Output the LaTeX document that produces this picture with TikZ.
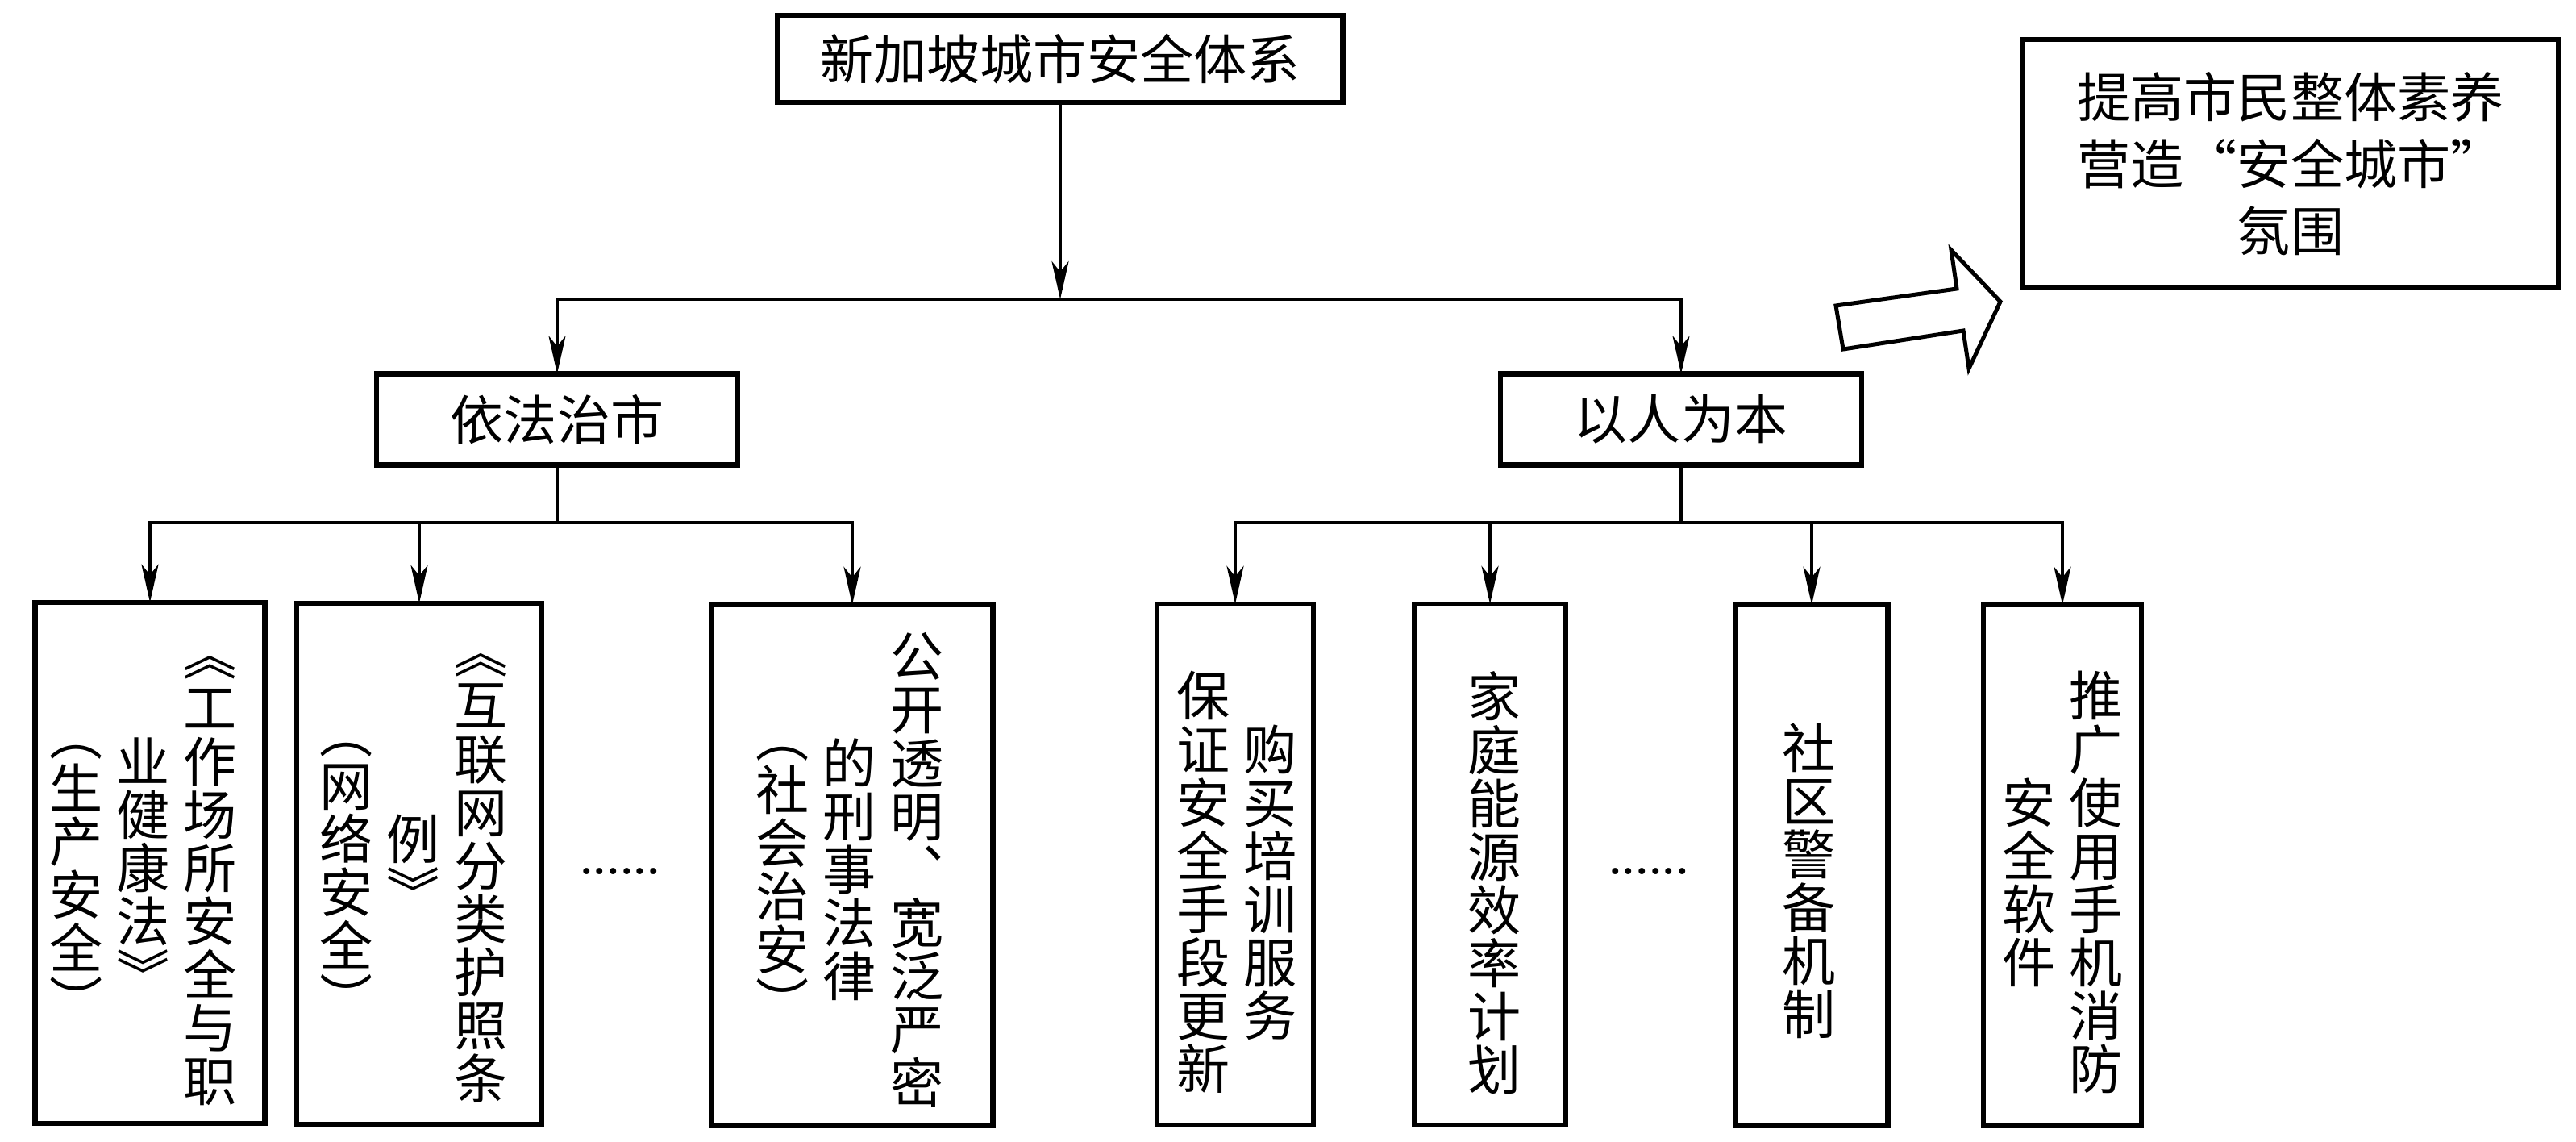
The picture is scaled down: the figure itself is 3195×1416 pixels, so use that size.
\documentclass[tikz,border=0pt]{standalone}
\usepackage{fontspec}
\setmainfont{Liberation Serif}
\newfontfamily\cjk{Noto Sans CJK SC}
\usetikzlibrary{arrows.meta}
\newlength\cw
\setlength\cw{0.66cm}
\makeatletter
\def\vc@aux#1{\ifx#1\relax\else\hbox to\cw{\hss\vrule height .88\cw depth .12\cw width 0pt\relax#1\hss}\expandafter\vc@aux\fi}
\newcommand\vcol[1]{$\vcenter{\baselineskip=\cw\lineskip=0pt\lineskiplimit=-\maxdimen\vc@aux#1\relax}$}
\makeatother
\newcommand\cg{\hskip0.17cm}
\begin{document}
\begin{tikzpicture}[x=0.01cm,y=-0.01cm,
  box/.style={draw,line width=0.065cm,inner sep=0pt,outer sep=0pt,font=\cjk\fontsize{18.8}{22}\selectfont},
  vtxt/.style={inner sep=0pt,font=\cjk\fontsize{18.8}{22}\selectfont},
  dots/.style={inner sep=0pt,anchor=base,font=\fontsize{18.8}{22}\selectfont},
  link/.style={line width=0.045cm},
  arr/.style={link,-{Stealth[length=0.47cm,width=0.21cm,inset=0.13cm]}}]
\useasboundingbox (0,0) rectangle (3195,1416);
% top level
\node[box,minimum width=7.01cm,minimum height=1.08cm] (top) at (1315,73) {新加坡城市安全体系};
\node[box,minimum width=4.48cm,minimum height=1.13cm] (law) at (691,520) {依法治市};
\node[box,minimum width=4.48cm,minimum height=1.13cm] (people) at (2085,520) {以人为本};
\node[box,minimum width=6.64cm,minimum height=3.08cm,align=center,font=\cjk\fontsize{18.8}{23.6}\selectfont] (goal) at (2841,203) {提高市民整体素养\\营造“安全城市”\\氛围};
% bottom boxes
\node[box,minimum width=2.85cm,minimum height=6.46cm] (b1) at (186,1070) {};
\node[box,minimum width=3.04cm,minimum height=6.46cm] (b2) at (520,1071) {};
\node[box,minimum width=3.49cm,minimum height=6.46cm] (b3) at (1057,1073) {};
\node[box,minimum width=1.94cm,minimum height=6.46cm] (b4) at (1532,1072) {};
\node[box,minimum width=1.88cm,minimum height=6.46cm] (b5) at (1848,1072) {};
\node[box,minimum width=1.89cm,minimum height=6.46cm] (b6) at (2247,1073) {};
\node[box,minimum width=1.96cm,minimum height=6.46cm] (b7) at (2558,1073) {};
% vertical texts
\node[vtxt] (t1) at (178,1076) {\vcol{︵生产安全︶}\cg\vcol{业健康法︾}\cg\vcol{︽工作场所安全与职}};
\node[vtxt] (t2) at (513,1073) {\vcol{︵网络安全︶}\cg\vcol{例︾}\cg\vcol{︽互联网分类护照条}};
\node[vtxt] (t3) at (1054,1078) {\vcol{︵社会治安︶}\cg\vcol{的刑事法律}\cg\vcol{公开透明︑宽泛严密}};
\node[vtxt] (t4) at (1534,1094) {\vcol{保证安全手段更新}\cg\vcol{购买培训服务}};
\node[vtxt] (t5) at (1854,1095) {\vcol{家庭能源效率计划}};
\node[vtxt] (t6) at (2244,1092) {\vcol{社区警备机制}};
\node[vtxt] (t7) at (2558,1094) {\vcol{安全软件}\cg\vcol{推广使用手机消防}};
% dots
\node[dots] (d1) at (769,1083) {......};
\node[dots] (d2) at (2045,1083) {......};
% connectors
\coordinate (j0) at (1315,371);
\coordinate (kl) at (691,648);
\coordinate (kr) at (2085,648);
\draw[arr] (top) -- (j0);
\draw[arr] (j0) -| (law);
\draw[arr] (j0) -| (people);
\draw[link] (law) -- (kl);
\draw[arr] (kl) -| (b1);
\draw[arr] (kl) -| (b2);
\draw[arr] (kl) -| (b3);
\draw[link] (people) -- (kr);
\draw[arr] (kr) -| (b4);
\draw[arr] (kr) -| (b5);
\draw[arr] (kr) -| (b6);
\draw[arr] (kr) -| (b7);
% block arrow
\draw[line width=0.05cm,line join=miter,fill=white] (2277,379) -- (2427,358) -- (2420,310) -- (2481,374) -- (2442,457) -- (2435,410) -- (2286,433) -- cycle;
\end{tikzpicture}
\end{document}
